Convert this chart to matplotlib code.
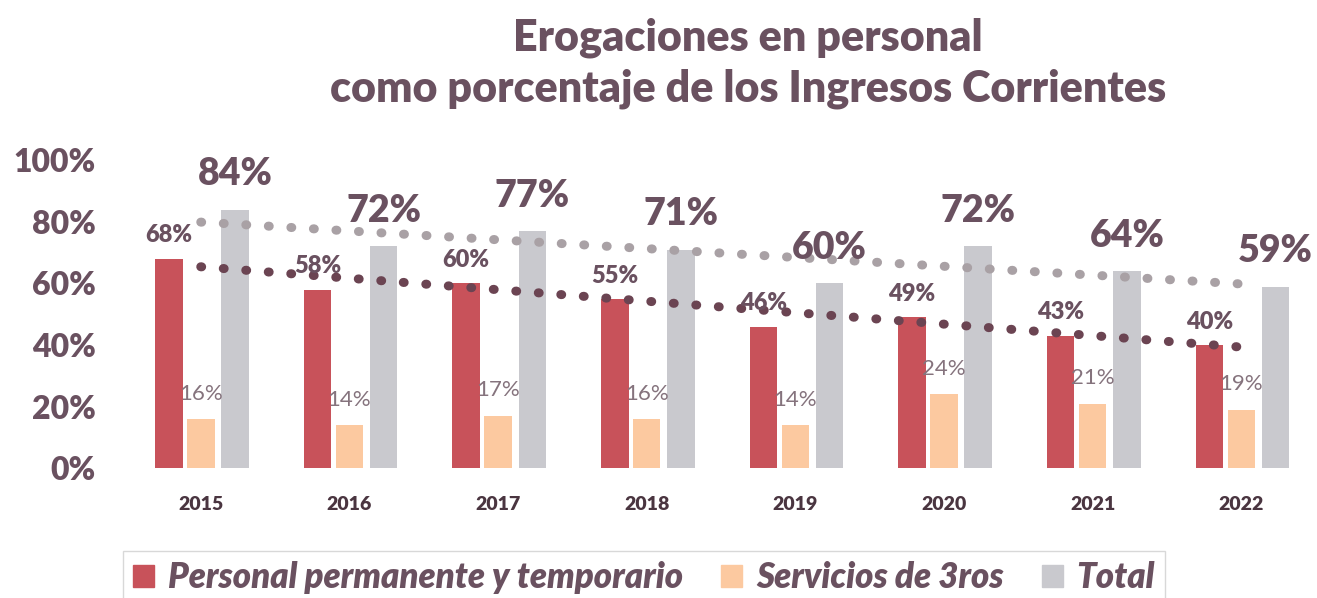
import numpy as np
import matplotlib.pyplot as plt
from matplotlib.patches import Patch

years = ['2015', '2016', '2017', '2018', '2019', '2020', '2021', '2022']
personal = [68, 58, 60, 55, 46, 49, 43, 40]
servicios = [16, 14, 17, 16, 14, 24, 21, 19]
total = [84, 72, 77, 71, 60, 72, 64, 59]

plt.rcParams['font.family'] = ['Lato', 'DejaVu Sans']

c_red = '#c8525a'
c_org = '#fcc9a0'
c_gry = '#c9c9ce'
c_txt = '#6a5160'

fig = plt.figure(figsize=(13.17, 5.98), dpi=100)
ax = fig.add_axes([0.096, 0.217, 0.903, 0.515])

x = np.arange(len(years))
w = 0.185
ax.bar(x - 0.215, personal, w, color=c_red, label='Personal permanente y temporario')
ax.bar(x, servicios, w, color=c_org, label='Servicios de 3ros')
ax.bar(x + 0.23, total, w, color=c_gry, label='Total')

# linear trendlines
for vals, col in [(total, '#a9a1a5'), (personal, '#6b4452')]:
    k, b = np.polyfit(x, vals, 1)
    ax.plot(x, k * x + b, linestyle=(0, (0.1, 2.4)), dash_capstyle='round',
            color=col, linewidth=6.5, zorder=3)

for i in range(len(years)):
    ax.text(x[i] - 0.215, personal[i] + 4, f'{personal[i]}%', ha='center', va='bottom',
            fontsize=17, fontweight='heavy', color=c_txt, zorder=4)
    ax.text(x[i], servicios[i] + 5, f'{servicios[i]}%', ha='center', va='bottom',
            fontsize=16, color='#85737d', zorder=4)
    ax.text(x[i] + 0.23, total[i] + 6, f'{total[i]}%', ha='center', va='bottom',
            fontsize=27, fontweight='heavy', color=c_txt, zorder=4)

ax.set_xlim(-0.5, 7.5)
ax.set_ylim(0, 100)
ax.set_yticks(range(0, 101, 20))
ax.set_yticklabels([f'{v}%' for v in range(0, 101, 20)], fontsize=23,
                   fontweight='heavy', color=c_txt)
ax.set_xticks(x)
ax.set_xticklabels(years, fontsize=14, fontweight='heavy', color='#4a3540')
ax.tick_params(length=0, axis='y', pad=22)
ax.tick_params(length=0, axis='x', pad=20)
for s in ax.spines.values():
    s.set_visible(False)

fig.text(0.568, 0.97, 'Erogaciones en personal\ncomo porcentaje de los Ingresos Corrientes',
         ha='center', va='top', fontsize=31, fontweight='heavy', color=c_txt,
         linespacing=1.3)

handles = [Patch(color=c_red), Patch(color=c_org), Patch(color=c_gry)]
leg = fig.legend(handles, ['Personal permanente y temporario', 'Servicios de 3ros', 'Total'],
                 loc='lower center', bbox_to_anchor=(0.489, -0.04), ncol=3, frameon=True,
                 fancybox=False, edgecolor='#cfcfcf', handlelength=0.6, handleheight=0.6,
                 handletextpad=0.4, columnspacing=1.1, borderpad=0.3,
                 prop={'size': 25, 'weight': 'heavy', 'style': 'italic'})
for t in leg.get_texts():
    t.set_color(c_txt)

fig.savefig('out.png', dpi=100)
